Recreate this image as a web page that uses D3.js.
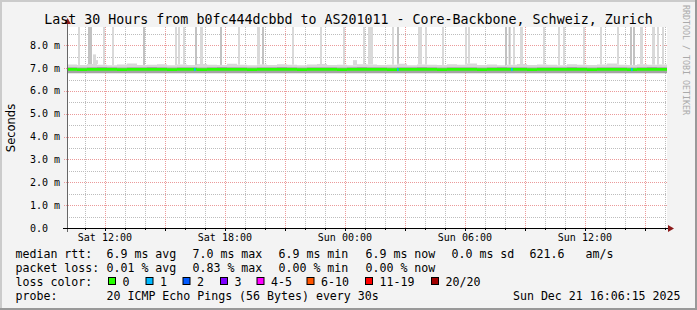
<!DOCTYPE html>
<html>
<head>
<meta charset="utf-8">
<script src="https://cdn.jsdelivr.net/npm/d3@7"></script>
<style>
  body { margin: 0; background: #f3f3f3; }
  svg text { font-family: "DejaVu Sans Mono", monospace; fill: #000; }
</style>
</head>
<body>
<svg id="chart"></svg>
<script>
// ---- data ----
const chartTitle = "Last 30 Hours from b0fc444dcbbd to AS201011 - Core-Backbone, Schweiz, Zurich";
const startTime = new Date(2025, 11, 20, 10, 6, 15);
const endTime = new Date(2025, 11, 21, 16, 6, 15);
const yTicks = [0, 1, 2, 3, 4, 5, 6, 7, 8];
const yTickLabels = ["0.0", "1.0 m", "2.0 m", "3.0 m", "4.0 m", "5.0 m", "6.0 m", "7.0 m", "8.0 m"];

// median rtt (ms), one value per half hour since start
const medianRtt = [6.94, 6.93, 6.94, 6.95, 6.94, 6.93, 6.94, 6.94, 6.95, 6.94,
  6.93, 6.94, 6.94, 6.93, 6.94, 6.95, 6.94, 6.94, 6.93, 6.94,
  6.94, 6.95, 6.94, 6.93, 6.94, 6.94, 6.94, 6.93, 6.94, 6.95,
  6.94, 6.94, 6.93, 6.94, 6.94, 6.95, 6.94, 6.93, 6.94, 6.94,
  6.94, 6.93, 6.94, 6.95, 6.94, 6.94, 6.93, 6.94, 6.94, 6.94,
  6.95, 6.94, 6.93, 6.94, 6.94, 6.94, 6.93, 6.94, 6.95, 6.94];

// upper edge of the smoke (ms), one value per half hour
const smokeUpper = [7.16, 7.14, 7.18, 7.15, 7.13, 7.16, 7.20, 7.14, 7.15, 7.17,
  7.13, 7.16, 7.14, 7.18, 7.15, 7.14, 7.19, 7.15, 7.13, 7.16,
  7.14, 7.17, 7.15, 7.13, 7.16, 7.18, 7.14, 7.15, 7.13, 7.17,
  7.16, 7.14, 7.15, 7.19, 7.13, 7.16, 7.15, 7.14, 7.17, 7.15,
  7.20, 7.14, 7.16, 7.13, 7.15, 7.18, 7.14, 7.16, 7.15, 7.13,
  7.17, 7.15, 7.14, 7.16, 7.20, 7.15, 7.14, 7.17, 7.15, 7.16];
const smokeLower = 6.80;

// outlier pings: [from hour, to hour, top ms]
const spikeLight = [
  [0.55, 0.65, 9], [1.30, 1.45, 7.6], [1.45, 1.55, 7.35], [1.80, 1.90, 9], [2.25, 2.32, 9],
  [5.40, 5.50, 9], [5.55, 5.65, 9], [5.80, 5.90, 9], [6.65, 6.80, 9], [8.55, 8.65, 9],
  [9.50, 9.65, 9], [11.25, 11.30, 9], [12.65, 12.75, 9], [13.80, 13.90, 9], [14.30, 14.50, 7.35],
  [14.80, 14.90, 9], [15.05, 15.30, 9], [16.25, 16.30, 9], [17.55, 17.75, 9], [17.90, 18.00, 9],
  [18.75, 18.80, 9], [19.90, 20.00, 9], [20.05, 20.15, 9], [22.30, 22.40, 9], [22.65, 22.80, 9],
  [23.80, 23.90, 9], [24.55, 24.65, 9], [24.80, 24.90, 9], [25.80, 25.90, 9], [26.65, 26.75, 9],
  [27.50, 27.55, 9], [28.65, 28.80, 9], [29.25, 29.40, 9], [29.50, 29.55, 9], [29.75, 29.80, 9]
];
const spikeMid = [
  [1.05, 1.25, 9], [3.80, 3.90, 9], [6.40, 6.50, 9], [7.65, 7.75, 9], [9.75, 9.80, 9],
  [16.50, 16.55, 9], [21.90, 21.97, 9], [22.08, 22.15, 9], [28.15, 28.25, 9], [28.30, 28.40, 9]
];
// hours where one of 20 pings was lost
const lossOneHours = [6.35, 16.5, 22.2, 28.2];

const rttRow = ["median rtt:", "6.9 ms avg", "7.0 ms max", "6.9 ms min", "6.9 ms now", "0.0 ms sd", "621.6", "am/s"];
const lossRow = ["packet loss:", "0.01 % avg", "0.83 % max", "0.00 % min", "0.00 % now"];
const lossLabels = ["0", "1", "2", "3", "4-5", "6-10", "11-19", "20/20"];
const lossColors = ["#26ff00", "#00b8ff", "#0059ff", "#7e00ff", "#ff00ff", "#ff5500", "#ff0000", "#a00000"];
const probeRow = ["probe:", "20 ICMP Echo Pings (56 Bytes) every 30s"];
const stampText = "Sun Dec 21 16:06:15 2025";

// ---- layout ----
const W = 697, H = 310;
const plot = { left: 67, right: 667, top: 27, bottom: 228 };
const step = 1 / 12; // 5 minute rrd step, in hours
const band = 0.06;   // half height of the median band, ms

const svg = d3.select('#chart').attr('width', W).attr('height', H);
const hourToDate = h => new Date(startTime.getTime() + h * 3600e3);

const x = d3.scaleTime().domain([startTime, endTime]).range([plot.left, plot.right]);
const y = d3.scaleLinear().domain([0, 8.8]).range([plot.bottom, plot.top]);

// frame
svg.append('rect').attr('width', W).attr('height', H).attr('fill', '#f3f3f3');
svg.append('path').attr('d', `M0,${H} V0 H${W}`).attr('fill', 'none').attr('stroke', '#cbcbcb').attr('stroke-width', 4);
svg.append('path').attr('d', `M0,${H} H${W} V0`).attr('fill', 'none').attr('stroke', '#999').attr('stroke-width', 4);

// canvas
svg.append('rect').attr('x', plot.left).attr('y', plot.top)
  .attr('width', plot.right - plot.left).attr('height', plot.bottom - plot.top).attr('fill', '#fff');

svg.append('clipPath').attr('id', 'clip').append('rect')
  .attr('x', plot.left).attr('y', plot.top)
  .attr('width', plot.right - plot.left).attr('height', plot.bottom - plot.top);

// grid
const grid = svg.append('g').attr('shape-rendering', 'crispEdges');
const minorY = d3.range(0.5, 8.8, 0.5).filter(v => v % 1 !== 0);
grid.selectAll('.gy-minor').data(minorY).join('line')
  .attr('x1', plot.left).attr('x2', plot.right)
  .attr('y1', d => Math.round(y(d)) + 0.5).attr('y2', d => Math.round(y(d)) + 0.5)
  .attr('stroke', '#bdbdbd').attr('stroke-dasharray', '1,1');
const hours = x.ticks(d3.timeHour.every(1));
const majorHours = x.ticks(d3.timeHour.every(3));
const isMajor = d => d.getHours() % 3 === 0;
grid.selectAll('.gx-minor').data(hours.filter(d => !isMajor(d))).join('line')
  .attr('x1', d => Math.round(x(d)) + 0.5).attr('x2', d => Math.round(x(d)) + 0.5)
  .attr('y1', plot.top).attr('y2', plot.bottom)
  .attr('stroke', '#bdbdbd').attr('stroke-dasharray', '1,1');
grid.selectAll('.gy-major').data(yTicks.slice(1)).join('line')
  .attr('x1', plot.left - 3).attr('x2', plot.right)
  .attr('y1', d => Math.round(y(d)) + 0.5).attr('y2', d => Math.round(y(d)) + 0.5)
  .attr('stroke', '#eb9a9a').attr('stroke-dasharray', '1,1');
grid.selectAll('.gx-major').data(majorHours).join('line')
  .attr('x1', d => Math.round(x(d)) + 0.5).attr('x2', d => Math.round(x(d)) + 0.5)
  .attr('y1', plot.top).attr('y2', plot.bottom + 2)
  .attr('stroke', '#eb9a9a').attr('stroke-dasharray', '1,1');

// smoke
const g = svg.append('g').attr('clip-path', 'url(#clip)');
const halfHours = medianRtt.map((_, i) => i * 0.5);
const smokeArea = d3.area()
  .x(d => x(hourToDate(d[0])))
  .y0(d => y(d[1]))
  .y1(d => y(d[2]))
  .curve(d3.curveStepAfter);
const smokeData = halfHours.map((h, i) => [h, smokeLower, smokeUpper[i]]).concat([[30, smokeLower, smokeUpper[59]]]);
g.append('path').datum(smokeData).attr('d', smokeArea).attr('fill', '#d8d8d8');
const coreData = halfHours.map((h, i) => [h, smokeLower - 0.02, medianRtt[i] + 0.1]).concat([[30, smokeLower - 0.02, medianRtt[59] + 0.1]]);
g.append('path').datum(coreData).attr('d', smokeArea).attr('fill', '#a4a4a4');

const drawSpikes = (data, color) => g.append('g').selectAll('rect').data(data).join('rect')
  .attr('x', d => x(hourToDate(d[0])))
  .attr('width', d => Math.max(2, x(hourToDate(d[1])) - x(hourToDate(d[0]))))
  .attr('y', d => y(d[2]))
  .attr('height', d => y(smokeUpper[Math.floor(d[0] * 2)]) - y(d[2]))
  .attr('fill', color);
drawSpikes(spikeLight, '#d9d9d9');
drawSpikes(spikeMid, '#c2c2c2');

// median band
const medianData = halfHours.map((h, i) => [h, medianRtt[i] - band, medianRtt[i] + band]).concat([[30, medianRtt[59] - band, medianRtt[59] + band]]);
g.append('path').datum(medianData).attr('d', smokeArea).attr('fill', lossColors[0]);
g.append('g').selectAll('rect').data(lossOneHours).join('rect')
  .attr('x', d => x(hourToDate(d)))
  .attr('width', d => x(hourToDate(d + step)) - x(hourToDate(d)))
  .attr('y', y(6.94 + band))
  .attr('height', y(6.94 - band) - y(6.94 + band))
  .attr('fill', lossColors[1]);

// axes
const axes = svg.append('g').attr('shape-rendering', 'crispEdges');
axes.append('line').attr('x1', plot.left + 0.5).attr('x2', plot.left + 0.5)
  .attr('y1', plot.bottom + 4).attr('y2', plot.top - 4).attr('stroke', '#666');
axes.append('line').attr('x1', plot.left - 4).attr('x2', plot.right + 2)
  .attr('y1', plot.bottom + 0.5).attr('y2', plot.bottom + 0.5).attr('stroke', '#000');
axes.selectAll('.xt').data(hours).join('line')
  .attr('x1', d => Math.round(x(d)) + 0.5).attr('x2', d => Math.round(x(d)) + 0.5)
  .attr('y1', plot.bottom).attr('y2', d => plot.bottom + (isMajor(d) ? 3 : 2))
  .attr('stroke', '#000');
svg.append('path').attr('d', `M${plot.left - 3},${plot.top - 3} L${plot.left + 0.5},${plot.top - 9} L${plot.left + 4},${plot.top - 3} Z`).attr('fill', '#8b1a1a');
svg.append('path').attr('d', `M${plot.right + 1},${plot.bottom - 3} L${plot.right + 7},${plot.bottom + 0.5} L${plot.right + 1},${plot.bottom + 4} Z`).attr('fill', '#8b1a1a');

// y labels
svg.append('g').selectAll('text').data(yTicks).join('text')
  .attr('x', 30).attr('y', d => y(d) + 3.5)
  .style('font-size', '10px')
  .text((d, i) => yTickLabels[i]);

// x labels
svg.append('g').selectAll('text').data(x.ticks(d3.timeHour.every(6))).join('text')
  .attr('x', d => x(d)).attr('y', 241)
  .attr('text-anchor', 'middle')
  .style('font-size', '10px')
  .text(d3.timeFormat('%a %H:%M'));

// title & side labels
svg.append('text').attr('x', W / 2).attr('y', 23.5).attr('text-anchor', 'middle')
  .style('font-size', '13.3px').text(chartTitle);
svg.append('text').attr('transform', 'translate(15,128) rotate(-90)').attr('text-anchor', 'middle')
  .style('font-family', '"DejaVu Sans", sans-serif').style('font-size', '11.5px').text('Seconds');
svg.append('text').attr('transform', 'translate(683,60) rotate(90)').attr('text-anchor', 'middle')
  .style('font-size', '8.3px').style('fill', '#aaa').text('RRDTOOL / TOBI OETIKER');

// legend
const cols = [15.5, 106.5, 192.5, 278.5, 365.5, 451.5, 529.5, 585.5];
const legend = svg.append('g').style('font-size', '11.6px');
legend.selectAll('.r1').data(rttRow).join('text').attr('x', (d, i) => cols[i]).attr('y', 258).text(d => d);
legend.selectAll('.r2').data(lossRow).join('text').attr('x', (d, i) => cols[i]).attr('y', 272).text(d => d);
legend.append('text').attr('x', cols[0]).attr('y', 286).text('loss color:');
const boxX = [108, 145.5, 182.5, 220, 256.5, 306.5, 365, 431];
const sw = legend.selectAll('.sw').data(lossLabels).join('g').attr('transform', (d, i) => `translate(${boxX[i]},277)`);
sw.append('rect').attr('x', 0.5).attr('y', 0.5).attr('width', 7).attr('height', 7)
  .attr('fill', (d, i) => lossColors[i]).attr('stroke', '#000');
sw.append('text').attr('x', 14.5).attr('y', 9).text(d => d);
legend.selectAll('.r4').data(probeRow).join('text').attr('x', (d, i) => cols[i]).attr('y', 300).text(d => d);
legend.append('text').attr('x', 680.5).attr('y', 300).attr('text-anchor', 'end').text(stampText);
</script>
</body>
</html>
